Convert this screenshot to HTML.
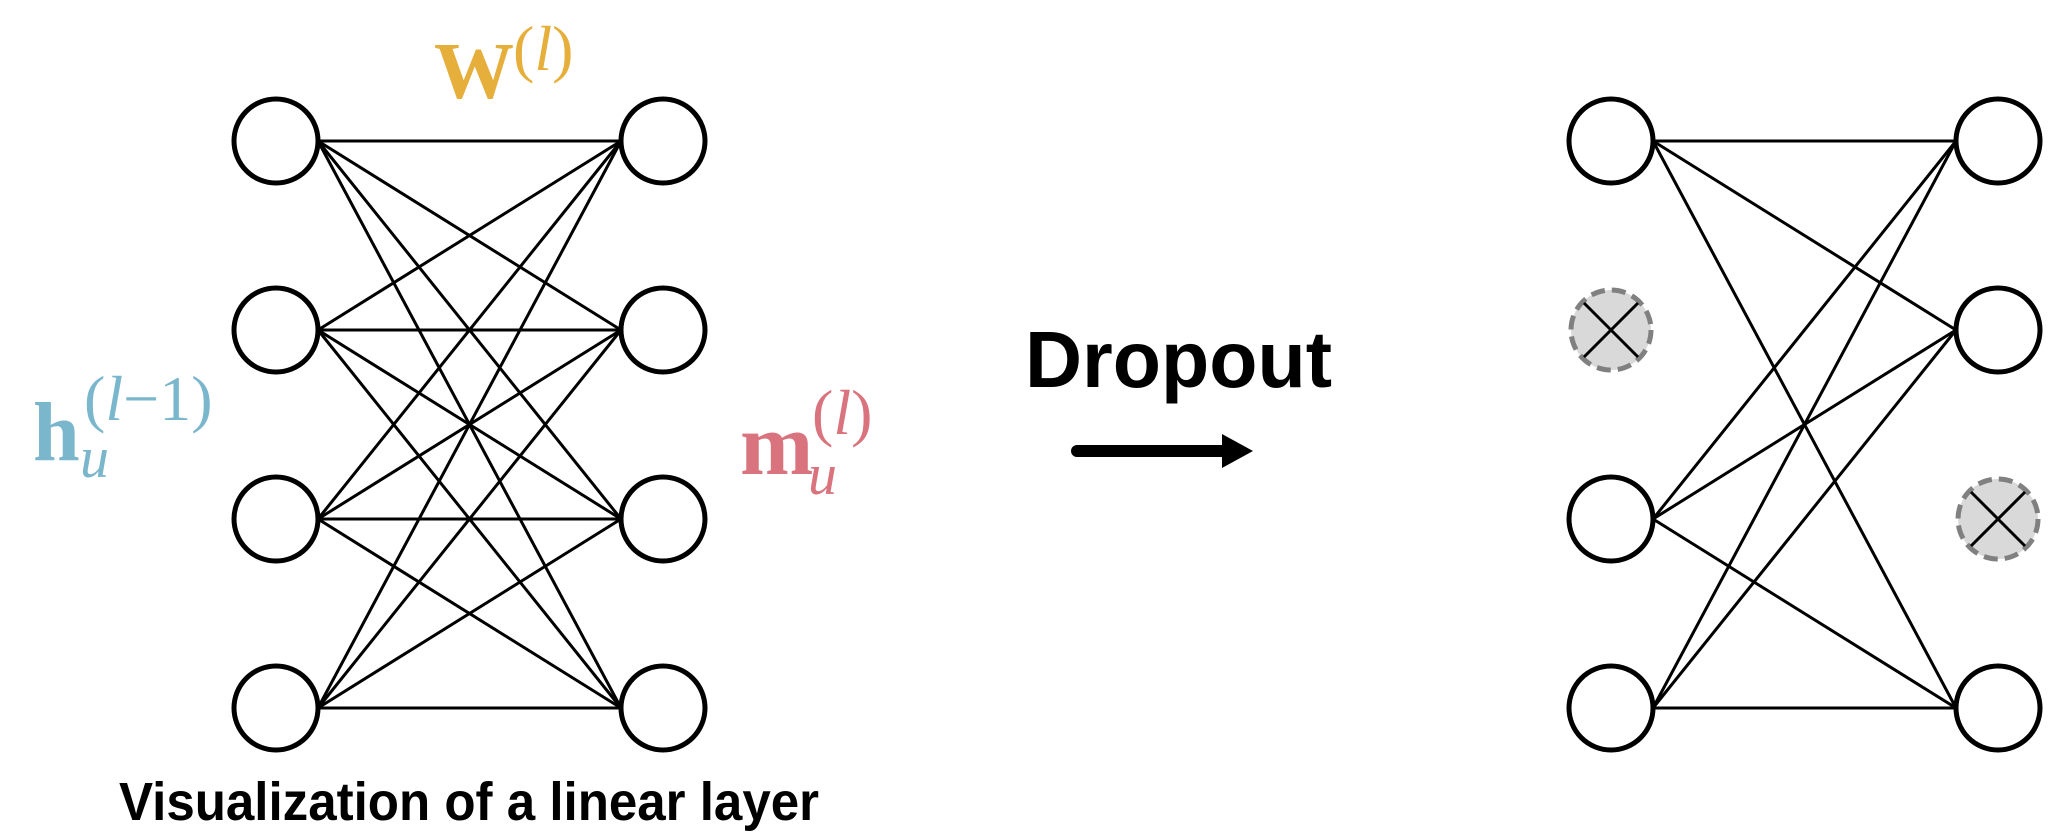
<!DOCTYPE html>
<html><head><meta charset="utf-8"><style>
html,body{margin:0;padding:0;background:#fff;width:2068px;height:832px;overflow:hidden}
svg{display:block}
</style></head><body>
<svg id="fig" width="2068" height="832" viewBox="0 0 2068 832">
<g id="edges-left"></g>
<g id="edges-right"></g>
<g id="nodes"></g>

<text x="434" y="98" font-family="Liberation Serif, serif" font-weight="bold" font-size="80" fill="#E6AE3B">W<tspan x="513" y="70" font-size="64" font-weight="normal">(<tspan font-style="italic">l</tspan>)</tspan></text>

<text x="33" y="460" font-family="Liberation Serif, serif" font-weight="bold" font-size="84" fill="#7AB6CC">h<tspan x="80" y="477" font-size="58" font-weight="normal" font-style="italic">u</tspan><tspan x="84" y="420" font-size="64" font-weight="normal">(<tspan font-style="italic">l</tspan>−1)</tspan></text>

<text x="740" y="474" font-family="Liberation Serif, serif" font-weight="bold" font-size="88" fill="#D9737E">m<tspan x="808" y="494" font-size="58" font-weight="normal" font-style="italic">u</tspan><tspan x="812" y="434" font-size="64" font-weight="normal">(<tspan font-style="italic">l</tspan>)</tspan></text>

<text x="1025" y="387" font-family="Liberation Sans, sans-serif" font-weight="bold" font-size="80" fill="#000" textLength="307" lengthAdjust="spacingAndGlyphs">Dropout</text>
<g>
<line x1="1077" y1="451" x2="1226" y2="451" stroke="#000" stroke-width="12" stroke-linecap="round"/>
<polygon points="1222,434 1253,451 1222,468" fill="#000"/>
</g>

<text x="119" y="820" font-family="Liberation Sans, sans-serif" font-weight="bold" font-size="54" fill="#000" textLength="700" lengthAdjust="spacingAndGlyphs">Visualization of a linear layer</text>
</svg>
<script>
const layerY = [141, 330, 519, 708];
const leftIn = 276, leftOut = 663, rightIn = 1611, rightOut = 1998;
const droppedIn = [1];
const droppedOut = [2];
const NS = 'http://www.w3.org/2000/svg';
const R = 42;
function mk(tag, attrs, parent){const e=document.createElementNS(NS,tag);for(const k in attrs)e.setAttribute(k,attrs[k]);parent.appendChild(e);return e;}
const eL = document.getElementById('edges-left');
const eR = document.getElementById('edges-right');
const nodes = document.getElementById('nodes');
layerY.forEach((y1,i)=>{layerY.forEach((y2,j)=>{
  const l = mk('line',{x1:leftIn+R,y1:y1,x2:leftOut-R,y2:y2,stroke:'#000','stroke-width':3},eL);
  
  
  if(droppedIn.includes(i)||droppedOut.includes(j)) return;
  const r = mk('line',{x1:rightIn+R,y1:y1,x2:rightOut-R,y2:y2,stroke:'#000','stroke-width':3},eR);
  
  
});});
function node(cx,cy,dropped){
  if(dropped){
    const g = mk('g',{},nodes);
    
    
    mk('circle',{cx:cx,cy:cy,r:40,fill:'#D9D9D9',stroke:'#808080','stroke-width':5,'stroke-dasharray':'14 7'},g);
    const d=27;
    mk('line',{x1:cx-d,y1:cy-d,x2:cx+d,y2:cy+d,stroke:'#000','stroke-width':3},g);
    mk('line',{x1:cx-d,y1:cy+d,x2:cx+d,y2:cy-d,stroke:'#000','stroke-width':3},g);
  } else {
    const c = mk('circle',{cx:cx,cy:cy,r:R,fill:'#fff',stroke:'#000','stroke-width':5},nodes);
    
    
  }
}
layerY.forEach((y,i)=>{
  node(leftIn,y,false); node(leftOut,y,false);
  node(rightIn,y,droppedIn.includes(i));
  node(rightOut,y,droppedOut.includes(i));
});
</script>
</body></html>
